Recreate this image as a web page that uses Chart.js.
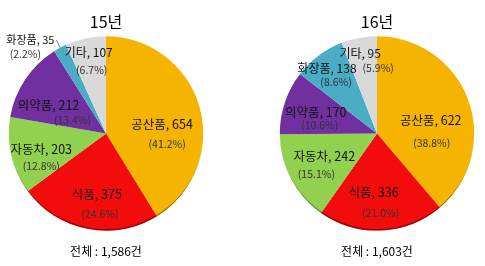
<!DOCTYPE html>
<html>
<head>
<meta charset="utf-8">
<script src="https://cdn.jsdelivr.net/npm/chart.js@4"></script>
<style>
  body { margin: 0; background: #fff; width: 485px; height: 266px; position: relative; overflow: hidden; }
  .box { position: absolute; top: 0; height: 266px; }
</style>
</head>
<body>
<div class="box" style="left:0;width:212px"><canvas id="c15" width="212" height="266"></canvas></div>
<div class="box" style="left:270px;width:214px"><canvas id="c16" width="214" height="266"></canvas></div>
<script>
// 데이터
const categories = ['공산품', '식품', '자동차', '의약품', '화장품', '기타'];
const values15 = [654, 375, 203, 212, 35, 107];
const values16 = [622, 336, 242, 170, 138, 95];
const pct15 = ['41.2%', '24.6%', '12.8%', '13.4%', '2.2%', '6.7%'];
const pct16 = ['38.8%', '21.0%', '15.1%', '10.6%', '8.6%', '5.9%'];
const years = ['15년', '16년'];
const totals = ['1,586', '1,603'];

const colors = ['#F4B400', '#F20C0C', '#92D050', '#7030A0', '#4BACC6', '#D9D9D9'];
const FONT = "'Noto Sans CJK KR', 'Noto Sans', sans-serif";

// 라벨 위치 보정 (이름 dx,dy / 퍼센트 dx,dy) - 조각 중심(0.6r) 기준
const offsets15 = [[0, 7, 5, 26], [2, 4, 5, 23], [-8, 2, -8, 19], [-9, 4, 15, 19], [-48, -42, -53, -28], [-5, -24, -2, -6]];
const offsets16 = [[-1, 7, 0, 30], [-6, 1, 1, 21], [-1, -4, -9, 14], [-6, -3, -2, 10], [-15, -18, -6, -5], [-6, -23, 12, -8]];

// 아래쪽 테두리 살짝 어둡게 (입체감)
const rimShade = {
  id: 'rimShade',
  afterDatasetsDraw(chart) {
    const arc = chart.getDatasetMeta(0).data[0];
    if (!arc) return;
    const p = arc.getProps(['x', 'y', 'outerRadius'], true);
    const ctx = chart.ctx;
    ctx.save();
    ctx.beginPath();
    ctx.arc(p.x, p.y, p.outerRadius, 0, Math.PI * 2);
    ctx.clip();
    ctx.beginPath();
    ctx.arc(p.x, p.y, p.outerRadius + 1, 0, Math.PI * 2);
    ctx.arc(p.x, p.y - 2.5, p.outerRadius + 1, 0, Math.PI * 2, true);
    ctx.fillStyle = 'rgba(0,0,0,0.4)';
    ctx.fill('evenodd');
    ctx.restore();
  }
};

const sliceLabels = {
  id: 'sliceLabels',
  afterDatasetsDraw(chart, args, opts) {
    const ctx = chart.ctx;
    const meta = chart.getDatasetMeta(0);
    const vals = chart.data.datasets[0].data;
    ctx.save();
    ctx.textAlign = 'center';
    ctx.textBaseline = 'middle';
    meta.data.forEach((arc, i) => {
      const p = arc.getProps(['x', 'y', 'startAngle', 'endAngle', 'outerRadius'], true);
      const mid = (p.startAngle + p.endAngle) / 2;
      const ax = p.x + Math.cos(mid) * p.outerRadius * 0.6;
      const ay = p.y + Math.sin(mid) * p.outerRadius * 0.6;
      const o = opts.offsets[i];
      const frac = (p.endAngle - p.startAngle) / (Math.PI * 2);
      const size = frac < 0.05 ? 11 : (frac < 0.1 ? 12 : 12.5);
      const name = chart.data.labels[i] + ', ' + vals[i];
      ctx.font = size + 'px ' + FONT;
      ctx.fillStyle = '#111';
      ctx.fillText(name, ax + o[0], ay + o[1]);
      if (opts.leader === i) {
        const w = ctx.measureText(name).width;
        ctx.strokeStyle = '#8a8a8a';
        ctx.lineWidth = 1;
        ctx.beginPath();
        ctx.moveTo(ax + o[0] + w / 2 + 2, ay + o[1]);
        ctx.lineTo(p.x + Math.cos(mid) * p.outerRadius * 0.97, p.y + Math.sin(mid) * p.outerRadius * 0.97);
        ctx.stroke();
      }
      ctx.font = '10.5px ' + FONT;
      ctx.fillStyle = '#333';
      ctx.fillText('(' + opts.pcts[i] + ')', ax + o[2], ay + o[3]);
    });
    ctx.restore();
  }
};

function makePie(id, values, pcts, year, total, offsets, leader) {
  new Chart(document.getElementById(id), {
    type: 'pie',
    data: {
      labels: categories,
      datasets: [{
        data: values,
        backgroundColor: colors,
        borderWidth: 0
      }]
    },
    options: {
      responsive: false,
      animation: false,
      events: [],
      layout: { padding: { left: 4, right: 4 } },
      plugins: {
        legend: { display: false },
        tooltip: { enabled: false },
        title: {
          display: true,
          text: year,
          color: '#000',
          font: { family: FONT, size: 16, weight: 'normal' },
          padding: { top: 12, bottom: 5 }
        },
        subtitle: {
          display: true,
          position: 'bottom',
          text: '전체 : ' + total + '건',
          color: '#000',
          font: { family: FONT, size: 12, weight: 'normal' },
          padding: { top: 14, bottom: 7 }
        },
        sliceLabels: { offsets: offsets, pcts: pcts, leader: leader }
      }
    },
    plugins: [rimShade, sliceLabels]
  });
}

makePie('c15', values15, pct15, years[0], totals[0], offsets15, 4);
makePie('c16', values16, pct16, years[1], totals[1], offsets16, -1);
</script>
</body>
</html>
